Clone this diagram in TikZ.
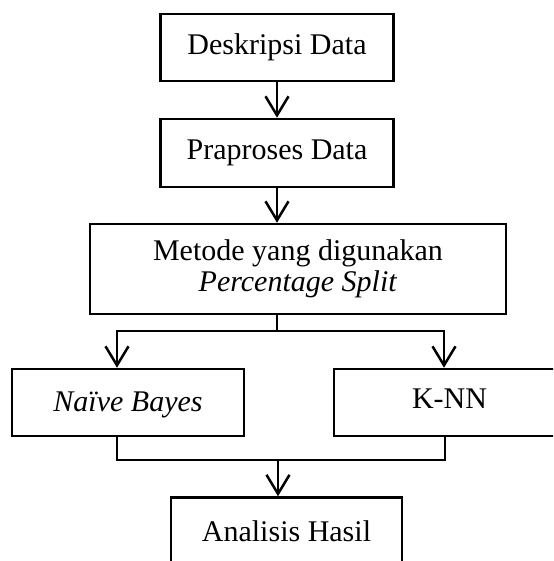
\documentclass[tikz,border=0pt]{standalone}
\usepackage{fontspec}
\setmainfont{Liberation Serif}
\usetikzlibrary{arrows.meta}
\tikzset{
  box/.style={draw=black, line width=2.5pt, rectangle, inner sep=0pt, align=center,
    font=\fontsize{30}{31}\selectfont, text=black},
  arr/.style={-{Straight Barb[length=19pt,width=23pt,line width=2.5pt]}, line width=2.5pt},
  ln/.style={line width=2.5pt}
}
\begin{document}
\begin{tikzpicture}[x=1pt,y=-1pt]
\clip (0,0) rectangle (553,561);
\fill[white] (0,0) rectangle (553,561);
\node[box, minimum width=233pt, minimum height=67pt] (b1) at (277,47.5) {Deskripsi Data};
\node[box, minimum width=233pt, minimum height=68pt] (b2) at (277,153) {Praproses Data};
\node[box, minimum width=416pt, minimum height=90pt] (b3) at (298,269) {Metode yang digunakan\\\textit{Percentage Split}};
\node[box, minimum width=232pt, minimum height=67pt] (b4) at (128,402.5) {\raisebox{-2.5pt}[\height][\depth]{\textit{Naïve Bayes}}};
\node[box, minimum width=231pt, minimum height=67pt] (b5) at (449.5,402.5) {\raisebox{4pt}[\height][\depth]{K-NN}};
\node[box, minimum width=231pt, minimum height=67pt] (b6) at (286.5,531) {Analisis Hasil};
\coordinate (s) at (277,331);
\coordinate (L) at (117,331);
\coordinate (R) at (444,331);
\coordinate (m) at (278,460);
\coordinate (ML) at (117,460);
\coordinate (MR) at (445,460);
\draw[arr] (b1.south) -- (b2.north);
\draw[arr] (b2.south) -- (b2.south |- b3.north);
\draw[ln] (b3.south -| s) -- (s);
\draw[arr] (s) -- (L) -- (L |- b4.north);
\draw[arr] (s) -- (R) -- (R |- b5.north);
\draw[ln] (b4.south -| ML) -- (ML) -- (MR) -- (b5.south -| MR);
\draw[arr] (m) -- (m |- b6.north);
\end{tikzpicture}
\end{document}
